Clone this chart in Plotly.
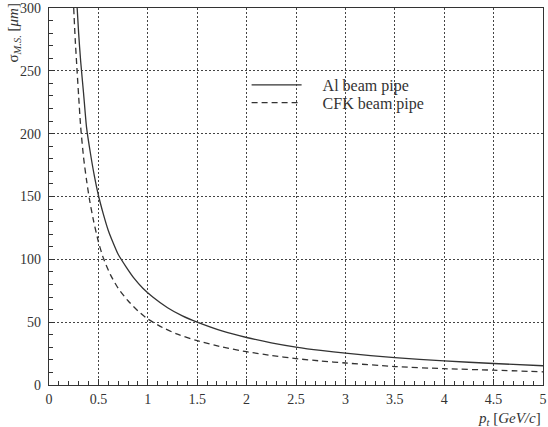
import plotly.graph_objects as go

# Al beam pipe (solid), sigma_MS in micrometres vs p_t in GeV/c
p_al = [0.285, 0.30, 0.32, 0.35, 0.38, 0.42, 0.46, 0.50, 0.55, 0.60, 0.65, 0.70, 0.78, 0.86, 0.95,
        1.05, 1.2, 1.35, 1.5, 1.75, 2.0, 2.25, 2.5, 2.75, 3.0, 3.5, 4.0, 4.5, 5.0]
s_al = [300, 280, 258, 232, 205, 184, 166, 151, 136, 123, 113, 104, 94, 85, 77,
        70, 61.5, 55, 50, 43, 37.8, 33.6, 30.2, 27.5, 25.3, 21.8, 19.2, 17.1, 15.3]

# CFK beam pipe (dashed)
p_cfk = [0.25, 0.265, 0.285, 0.30, 0.32, 0.35, 0.38, 0.41, 0.45, 0.50, 0.55, 0.62, 0.70, 0.80, 0.90,
         1.0, 1.15, 1.3, 1.5, 1.75, 2.0, 2.25, 2.5, 2.75, 3.0, 3.5, 4.0, 4.5, 5.0]
s_cfk = [300, 275.5, 249, 230, 206, 181, 163, 147.5, 131, 114, 101, 88, 77, 67, 59,
         52.5, 45.7, 40.4, 35.3, 30.3, 26.5, 23.5, 21, 19.1, 17.5, 14.7, 13, 11.8, 10.5]

x_ticks = [0, 0.5, 1, 1.5, 2, 2.5, 3, 3.5, 4, 4.5, 5]
x_labels = ["0", "0.5", "1", "1.5", "2", "2.5", "3", "3.5", "4", "4.5", "5"]
y_ticks = [0, 50, 100, 150, 200, 250, 300]

ink = "#333333"
font_family = "Liberation Serif"
NB = "\u00a0" * 4

fig = go.Figure()
fig.add_trace(go.Scatter(x=p_al, y=s_al, mode="lines", name=NB + "Al beam pipe",
                         legend="legend",
                         line=dict(color=ink, width=1.3, shape="spline", smoothing=0.6)))
fig.add_trace(go.Scatter(x=p_cfk, y=s_cfk, mode="lines", name=NB + "CFK beam pipe",
                         legend="legend2",
                         line=dict(color=ink, width=1.3, dash="6px,4px", shape="spline", smoothing=0.6)))

axis_common = dict(
    showline=True, linecolor=ink, linewidth=1.2, mirror=True,
    showgrid=True, gridcolor="#444444", gridwidth=1, griddash="2px,2px",
    ticks="inside", tickcolor=ink, ticklen=6,
    zeroline=False, ticklabeloverflow="allow",
    tickfont=dict(family=font_family, size=14, color=ink),
)

fig.update_xaxes(range=[0, 5], tickvals=x_ticks, ticktext=x_labels,
                 minor=dict(dtick=0.1, ticks="inside", ticklen=4, tickcolor=ink, showgrid=False),
                 ticklabelstandoff=1, **axis_common)
fig.update_yaxes(range=[0, 300], tickvals=y_ticks,
                 minor=dict(dtick=10, ticks="inside", ticklen=4, tickcolor=ink, showgrid=False),
                 ticklabelstandoff=4, **axis_common)

fig.add_annotation(xref="paper", yref="paper", x=-0.070, y=1.017,
                   xanchor="center", yanchor="top", textangle=-90, showarrow=False,
                   text="σ<sub><i>M.S.</i></sub> [<i>μm</i>]",
                   font=dict(family=font_family, size=15, color=ink))
fig.add_annotation(xref="paper", yref="paper", x=1.0, y=-0.062,
                   xanchor="right", yanchor="top", showarrow=False,
                   text="<i>p<sub>t</sub></i> [<i>GeV/c</i>]",
                   font=dict(family=font_family, size=15, color=ink))

legend_font = dict(family=font_family, size=16, color=ink)
fig.update_layout(
    width=548, height=427,
    margin=dict(l=49, r=1, t=7, b=42),
    paper_bgcolor="white", plot_bgcolor="white",
    showlegend=True,
    legend=dict(x=0.40, y=0.796, xanchor="left", yanchor="middle",
                bgcolor="rgba(0,0,0,0)", itemwidth=50, font=legend_font),
    legend2=dict(x=0.40, y=0.749, xanchor="left", yanchor="middle",
                 bgcolor="rgba(0,0,0,0)", itemwidth=50, font=legend_font),
)

fig.write_html("out.html")
